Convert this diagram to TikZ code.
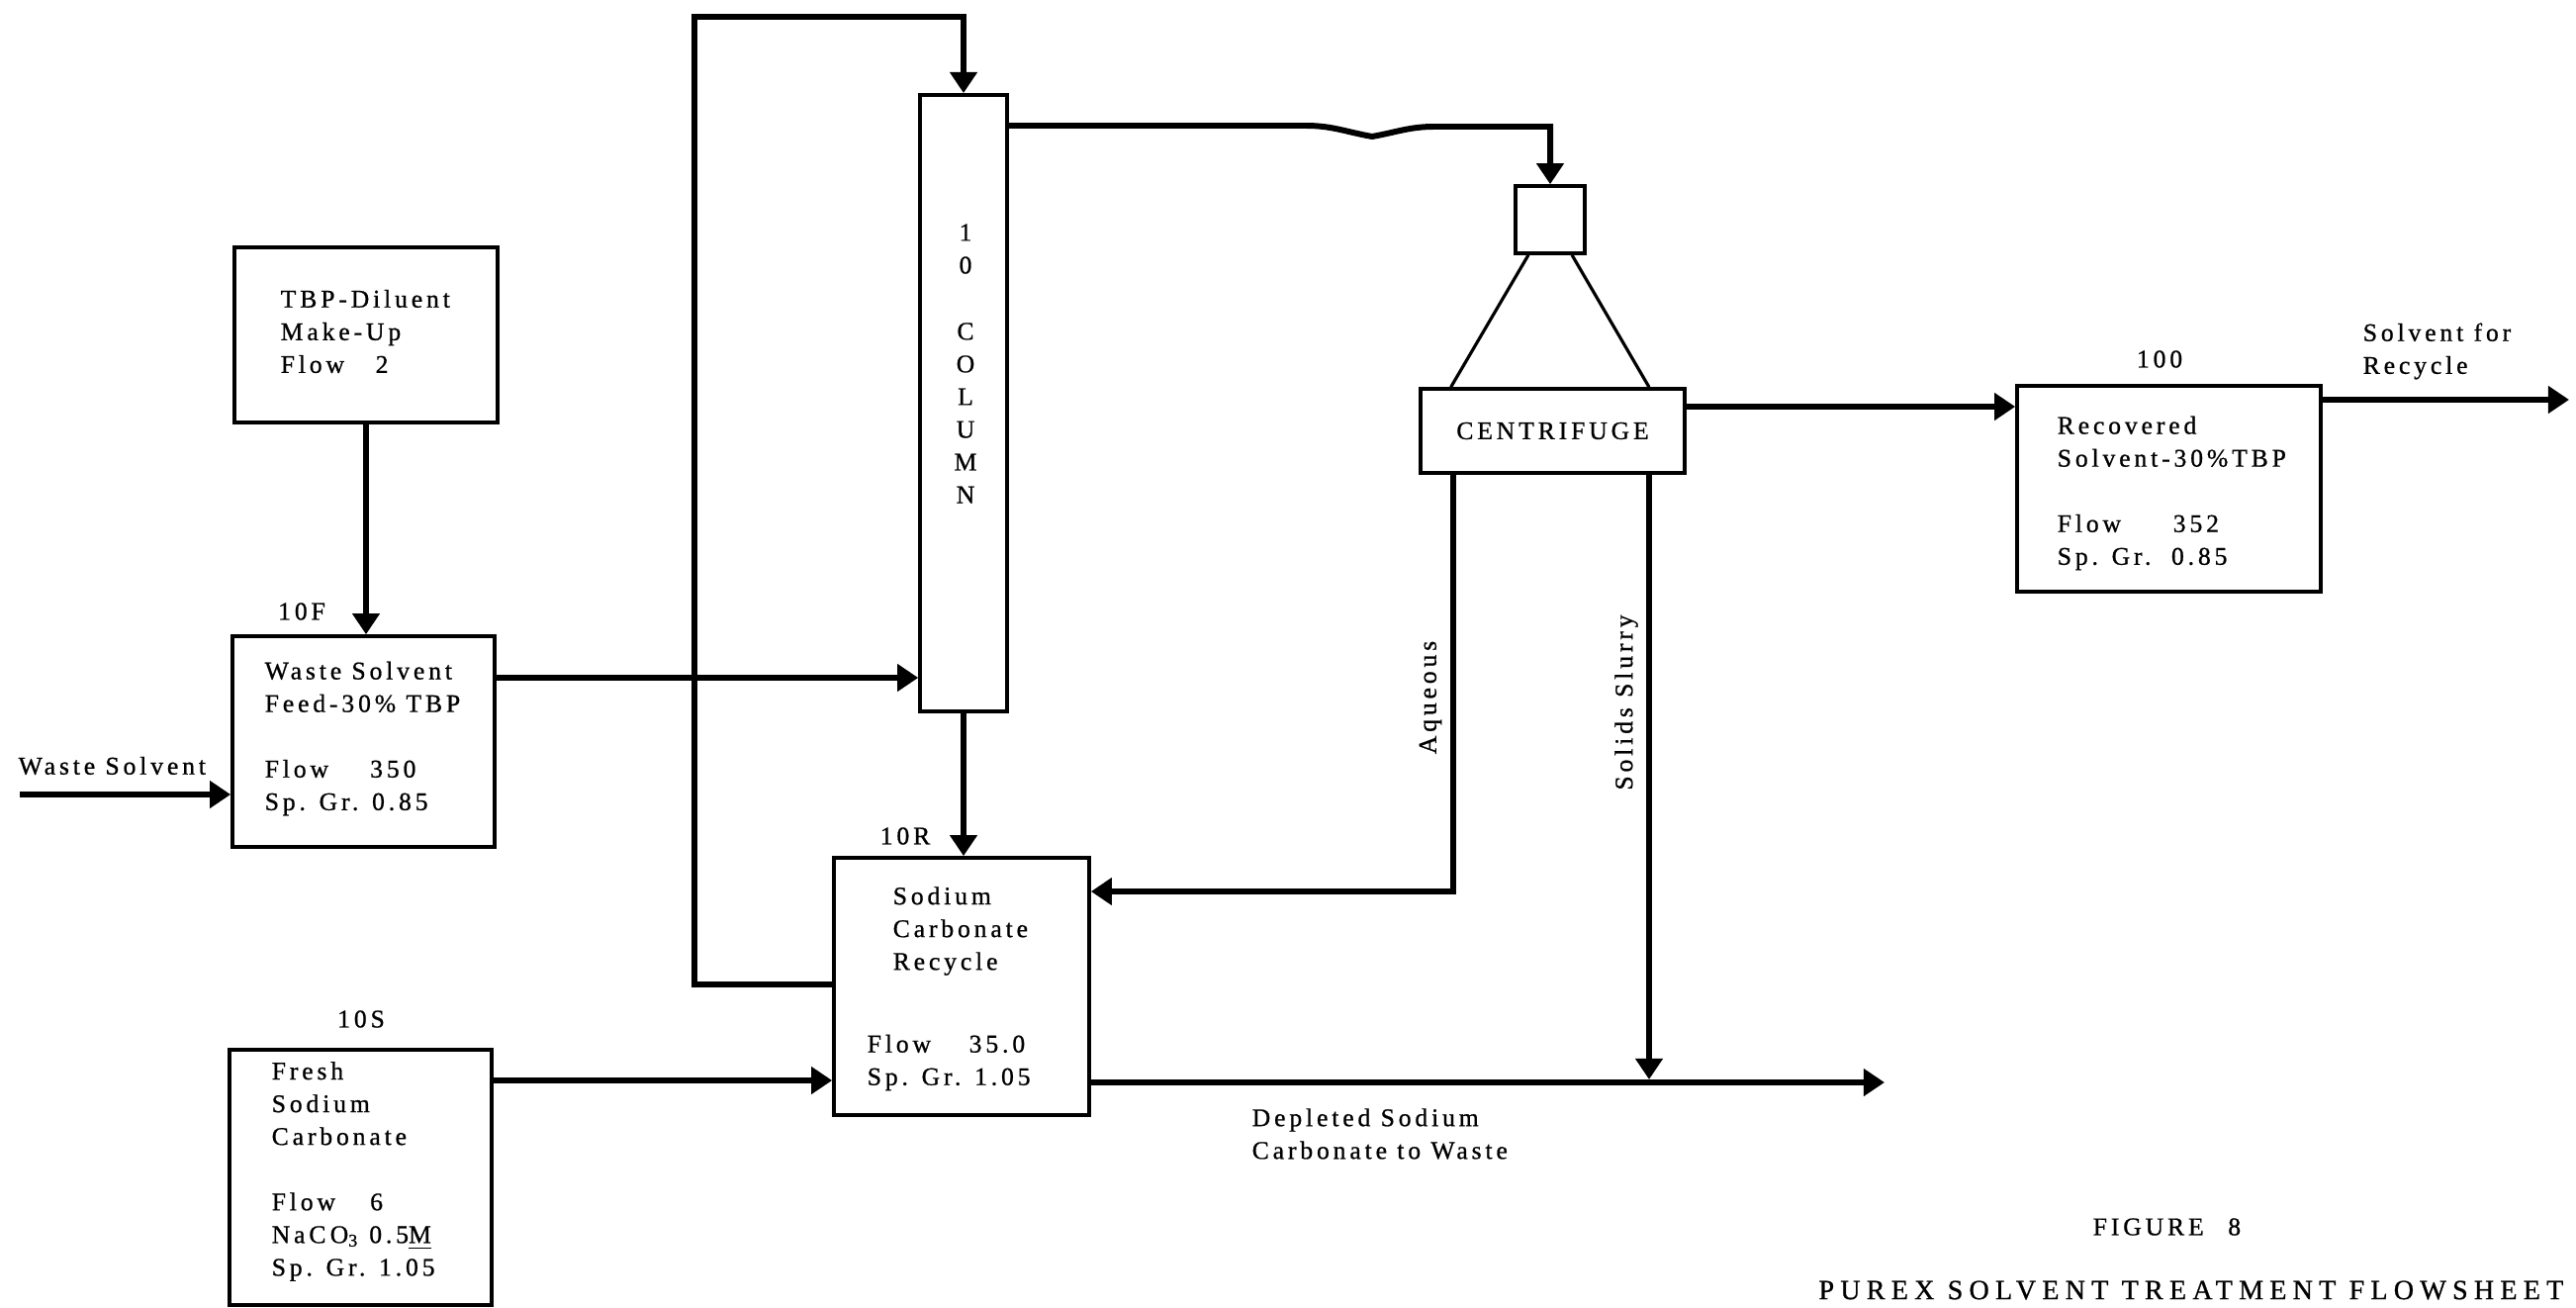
\documentclass[tikz,border=0pt]{standalone}
\usepackage{fontspec}
\setmainfont{Liberation Serif}[LetterSpace=15,FakeBold=0.8]
\usetikzlibrary{arrows.meta,calc}

\begin{document}
\begin{tikzpicture}[x=0.01cm,y=-0.01cm,every node/.style={font=\fontsize{7.3}{9.4}\selectfont,inner sep=0pt}]
\tikzset{unit/.style={draw,line width=1pt,minimum width=#1},
  flow/.style={-{Triangle[length=6pt,width=7.6pt]},line width=1.7pt},
  feedline/.style={line width=0.9pt}}
\useasboundingbox (0,0) rectangle (2604,1322);
% vessels
\node[unit=2.66cm,minimum height=1.77cm] (tbp) at (370,338.5) {};
\node[unit=2.65cm,minimum height=2.13cm] (feed) at (367.5,749.5) {};
\node[unit=2.65cm,minimum height=2.58cm] (fresh) at (364.5,1190) {};
\node[unit=0.88cm,minimum height=6.23cm] (column) at (974,407.5) {};
\node[unit=2.58cm,minimum height=2.60cm] (recyc) at (972,997) {};
\node[unit=0.70cm,minimum height=0.68cm] (hopper) at (1567,222) {};
\node[unit=2.67cm,minimum height=0.85cm] (centrif) at (1569.5,435.5) {CENTRIFUGE};
\node[unit=3.07cm,minimum height=2.08cm] (recov) at (2192.5,494) {};
% texts inside vessels
\node[anchor=west,align=left] (tbptxt) at (283,335) {TBP-Diluent\\Make-Up\\Flow\hspace{9pt}2};
\node[anchor=west,align=left] (feedtxt) at (267,746.5) {Waste Solvent\\Feed-30\% TBP\\[9.4pt]Flow\hspace{12pt}350\\Sp. Gr. 0.85};
\node[anchor=west,align=left] (freshtxt) at (274,1184) {Fresh\\Sodium\\Carbonate\\[9.4pt]Flow\hspace{10pt}6\\NaC\,O\textsubscript{3} 0.5\underline{M}\\Sp. Gr. 1.05};
\node[anchor=west,align=left] (recyctxt) at (902,941) {Sodium\\Carbonate\\Recycle};
\node[anchor=west,align=left] (recycflow) at (876,1074) {Flow\hspace{11pt}35.0\\Sp. Gr. 1.05};
\node[anchor=west,align=left] (recovtxt) at (2079,498.5) {Recovered\\Solvent-30\%TBP\\[9.4pt]Flow\hspace{15pt}352\\Sp. Gr.\ \ 0.85};
\node[align=center] (coltxt) at (976,367.5) {1\\0\\[9.6pt]C\\O\\L\\U\\M\\N};
% stream labels
\node[anchor=west] (lblws) at (18,774) {Waste Solvent};
\node (lbl10f) at (305,618) {10F};
\node (lbl10r) at (915,845) {10R};
\node (lbl10s) at (365,1030) {10S};
\node (lbl100) at (2183,363) {100};
\node[anchor=west,align=left] (lblrecycle) at (2388,355) {Solvent for\\Recycle};
\node[rotate=90] (lblaq) at (1446,705) {Aqueous};
\node[rotate=90] (lblsl) at (1644,710) {Solids Slurry};
\node[anchor=west,align=left] (lbldepl) at (1265,1146) {Depleted Sodium\\Carbonate to Waste};
\node[anchor=west] (figno) at (2115,1240) {FIGURE\hspace{7pt}8};
\node[anchor=east,font=\fontsize{8}{9.4}\selectfont] (figtitle) at (2592,1304) {\addfontfeature{LetterSpace=22}PUREX SOLVENT TREATMENT FLOWSHEET};
% free ends and bends
\coordinate (wsin) at (20,803);
\coordinate (loopcorner) at (702,17);
\coordinate (recout) at (2597,404);
\coordinate (wasteout) at (1905,1094);
\coordinate (slurryend) at (1667,1091);
% streams
\draw[flow] (wsin) -- (wsin -| feed.west);
\draw[flow] (tbp.south) -- (feed.north -| tbp.south);
\draw[flow] (feed.east |- 0,685) -- (column.west |- 0,685);
\draw[flow] (recyc.west |- 0,995) -| (loopcorner) -| (column.north);
\draw[flow] (column.south) -- (recyc.north -| column.south);
\draw[flow] (column.east |- 0,127) -- (1320,127) to[out=0,in=170] (1387,138) to[out=10,in=180] (1450,128) -| (hopper.north);
\draw[feedline] ($(hopper.south west)!0.2!(hopper.south east)$) -- ($(centrif.north west)!0.12!(centrif.north east)$);
\draw[feedline] ($(hopper.south west)!0.8!(hopper.south east)$) -- ($(centrif.north west)!0.86!(centrif.north east)$);
\draw[flow] (centrif.east |- 0,411) -- (recov.west |- 0,411);
\draw[flow] (recov.east |- 0,404) -- (recout);
\draw[flow] (centrif.south -| 1469,0) |- (recyc.east |- 0,901);
\draw[flow] (centrif.south -| 1667,0) -- (slurryend);
\draw[flow] (recyc.east |- 0,1094) -- (wasteout);
\draw[flow] (fresh.east |- 0,1092) -- (recyc.west |- 0,1092);
\end{tikzpicture}
\end{document}
